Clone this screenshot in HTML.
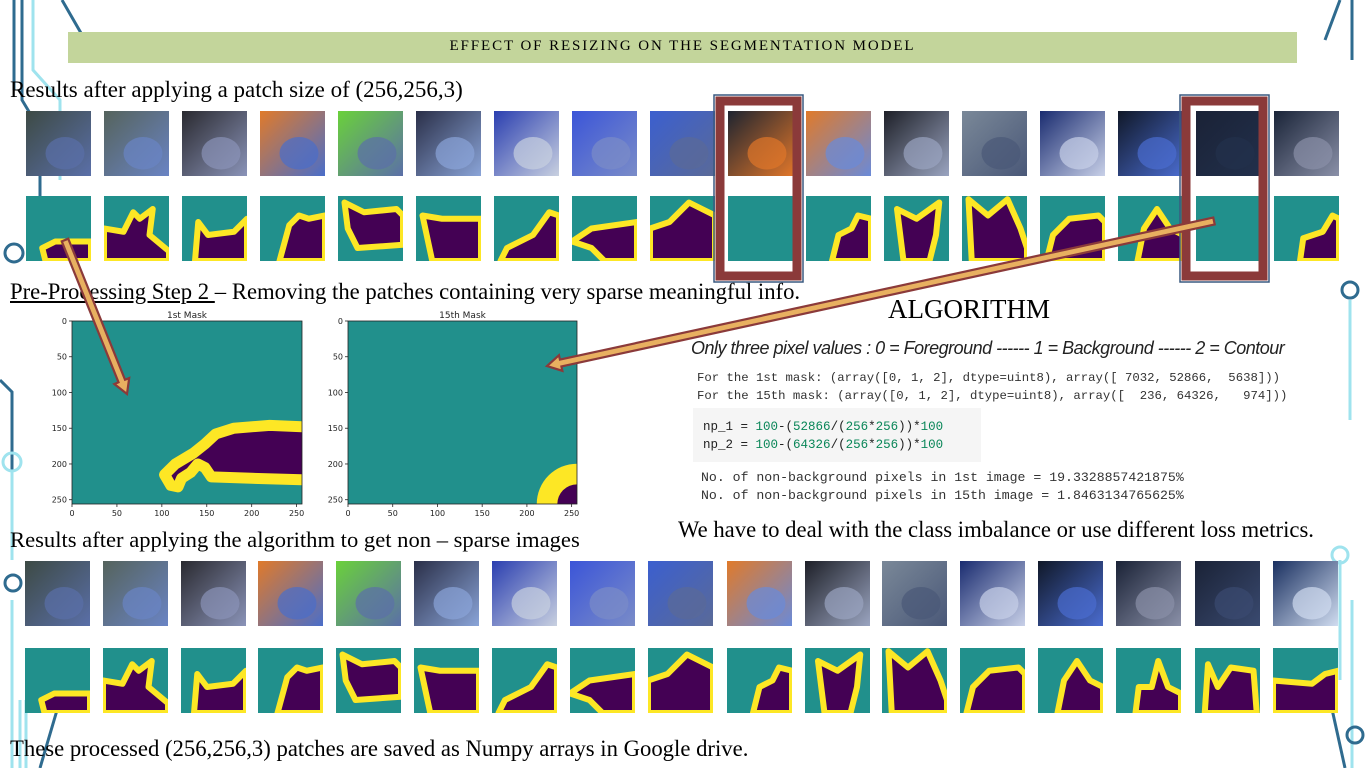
<!DOCTYPE html>
<html><head><meta charset="utf-8">
<style>
body{margin:0;width:1366px;height:768px;background:#fff;overflow:hidden;position:relative;font-family:"Liberation Serif",serif}
.t{position:absolute;white-space:nowrap;color:#000}
.mono{font-family:"Liberation Mono",monospace;font-size:12.3px;color:#333;white-space:pre}
</style></head><body>
<svg id="deco" width="1366" height="768" style="position:absolute;left:0;top:0">
<g fill="none" stroke-width="3">
<path d="M14 0 V90 M22 0 V100 L40 130 V260" stroke="#2f6b8f"/>
<path d="M33 0 V70 L60 100 V180" stroke="#9fe3ee"/>
<path d="M62 0 L85 40 L120 60" stroke="#2f6b8f"/>
<path d="M0 380 L12 392 V470" stroke="#2f6b8f"/>
<path d="M12 470 V560" stroke="#9fe3ee"/>
<path d="M12 600 V768 M20 700 V768 M26 700 V768" stroke="#9fe3ee"/>
<path d="M60 700 L40 768" stroke="#2f6b8f"/>
<path d="M1352 0 V60 M1340 0 L1325 40" stroke="#2f6b8f"/>
<path d="M1350 300 V420 M1340 560 V680 M1352 600 V768" stroke="#9fe3ee"/>
<path d="M1330 700 L1345 768" stroke="#2f6b8f"/>
<circle cx="14" cy="253" r="9" stroke="#2f6b8f"/><circle cx="12" cy="462" r="9" stroke="#9fe3ee"/>
<circle cx="1350" cy="290" r="8" stroke="#2f6b8f"/><circle cx="1340" cy="555" r="8" stroke="#9fe3ee"/>
<circle cx="13" cy="583" r="8" stroke="#2f6b8f"/><circle cx="1355" cy="735" r="8" stroke="#2f6b8f"/>
</g></svg>

<div style="position:absolute;left:68px;top:32px;width:1229px;height:31px;background:#c3d59b"></div>
<div class="t" style="left:68px;top:38px;width:1229px;text-align:center;font-size:15px;letter-spacing:1.9px">EFFECT OF RESIZING ON THE SEGMENTATION MODEL</div>
<div class="t" style="left:10px;top:77px;font-size:23px">Results after applying a patch size of (256,256,3)</div>
<div class="t" style="left:10px;top:279px;font-size:22.7px"><u>Pre-Processing Step 2 </u>– Removing the patches containing very sparse meaningful info.</div>
<div class="t" style="left:888px;top:294px;font-size:27px">ALGORITHM</div>
<div class="t" style="left:691px;top:338px;font-size:18px;font-style:italic;font-family:'Liberation Sans',sans-serif;color:#222;letter-spacing:-0.5px">Only three pixel values : 0 = Foreground ------ 1 = Background ------ 2 = Contour</div>
<div class="t mono" style="left:697px;top:369px;line-height:18px">For the 1st mask: (array([0, 1, 2], dtype=uint8), array([ 7032, 52866,  5638]))
For the 15th mask: (array([0, 1, 2], dtype=uint8), array([  236, 64326,   974]))</div>
<div style="position:absolute;left:693px;top:408px;width:288px;height:54px;background:#f5f5f5"></div>
<div class="t mono" style="left:703px;top:418px;line-height:18px;color:#222;font-size:12.5px">np_1 = <span style="color:#098658">100</span>-(<span style="color:#098658">52866</span>/(<span style="color:#098658">256</span>*<span style="color:#098658">256</span>))*<span style="color:#098658">100</span>
np_2 = <span style="color:#098658">100</span>-(<span style="color:#098658">64326</span>/(<span style="color:#098658">256</span>*<span style="color:#098658">256</span>))*<span style="color:#098658">100</span></div>
<div class="t mono" style="left:701px;top:469px;line-height:18px;font-size:13.2px">No. of non-background pixels in 1st image = 19.3328857421875%
No. of non-background pixels in 15th image = 1.8463134765625%</div>
<div class="t" style="left:678px;top:517px;font-size:22.7px">We have to deal with the class imbalance or use different loss metrics.</div>
<div class="t" style="left:10px;top:527px;font-size:22.6px">Results after applying the algorithm to get non – sparse images</div>
<div class="t" style="left:10px;top:736px;font-size:22.7px">These processed (256,256,3) patches are saved as Numpy arrays in Google drive.</div>

<svg id="main" width="1366" height="768" style="position:absolute;left:0;top:0"></svg>

<script>
const NS='http://www.w3.org/2000/svg';
const svg=document.getElementById('main');
function mk(tag,attrs,parent){const e=document.createElementNS(NS,tag);for(const k in attrs)e.setAttribute(k,attrs[k]);(parent||svg).appendChild(e);return e;}

const row1X=[26,104,182,260,338,416,494,572,650,728,806,884,962,1040,1118,1196,1274];
const row2X=[25,103,181,258,336,414,492,570,648,727,805,882,960,1038,1116,1195,1273];
const row1Colors=[['#3d4a44','#5a6fa8'],['#55635c','#6a84c4'],['#2a2a30','#8a93b8'],['#e07a2a','#4a6ec9'],['#6ad13a','#5b6fa8'],['#2a2f48','#8aa4d8'],['#2b3fb0','#c8d0e0'],['#3b55d8','#7a8cc8'],['#3b5fcf','#5a6a98'],['#1e2430','#e0762a'],['#e07a2a','#6a8ad8'],['#1e2028','#9aa4c0'],['#7a8898','#4a5878'],['#1a2c70','#c8d0e8'],['#101828','#4a6cd0'],['#1a2236','#22304c'],['#1a2438','#8a90a8']];
const row2Colors=[['#3d4a44','#5a6fa8'],['#55635c','#6a84c4'],['#2a2a30','#8a93b8'],['#e07a2a','#4a6ec9'],['#6ad13a','#5b6fa8'],['#2a2f48','#8aa4d8'],['#2b3fb0','#c8d0e0'],['#3b55d8','#7a8cc8'],['#3b5fcf','#5a6a98'],['#e07a2a','#6a8ad8'],['#1e2028','#9aa4c0'],['#7a8898','#4a5878'],['#1a2c70','#c8d0e8'],['#101828','#4a6cd0'],['#1a2236','#8a90a8'],['#1a2236','#3a4a70'],['#1a3060','#d0dcf0']];
const shapes=[
 [[0.3,1],[0.25,0.8],[0.45,0.7],[1,0.7],[1,1]],
 [[0,0.5],[0.3,0.55],[0.45,0.25],[0.55,0.35],[0.75,0.2],[0.7,0.6],[1,0.85],[1,1],[0,1]],
 [[0.2,1],[0.25,0.4],[0.4,0.6],[0.8,0.55],[1,0.35],[1,1]],
 [[0.3,1],[0.45,0.45],[0.6,0.3],[0.75,0.35],[1,0.3],[1,1]],
 [[0.1,0.1],[0.4,0.25],[0.9,0.2],[1,0.3],[1,0.75],[0.3,0.8],[0.15,0.5]],
 [[0.1,0.3],[0.4,0.35],[1,0.35],[1,1],[0.25,1]],
 [[0.1,1],[0.2,0.8],[0.6,0.6],[0.85,0.25],[1,0.3],[1,1]],
 [[0,0.7],[0.3,0.5],[1,0.4],[1,1],[0.5,1],[0.3,0.8]],
 [[0,0.5],[0.3,0.4],[0.6,0.1],[0.8,0.2],[1,0.3],[1,1],[0,1]],
 null,
 [[0.4,1],[0.5,0.6],[0.7,0.5],[0.8,0.3],[1,0.35],[1,1]],
 [[0.2,0.2],[0.5,0.35],[0.85,0.1],[0.8,0.6],[0.7,1],[0.3,1]],
 [[0.1,0.05],[0.4,0.3],[0.7,0.05],[0.9,0.5],[1,0.8],[1,1],[0.15,1]],
 [[0.1,1],[0.2,0.6],[0.45,0.35],[0.9,0.3],[1,0.4],[1,1]],
 [[0.3,1],[0.4,0.5],[0.6,0.2],[0.8,0.5],[1,0.6],[1,1]],
 null,
 [[0.4,1],[0.45,0.65],[0.75,0.55],[0.9,0.3],[1,0.35],[1,1]]
];
const shapes2=shapes.slice(0,9).concat([shapes[10],shapes[11],shapes[12],shapes[13],shapes[14],[[0.3,1],[0.35,0.6],[0.55,0.6],[0.65,0.2],[0.8,0.6],[1,0.7],[1,1]],[[0.2,0.25],[0.35,0.6],[0.55,0.3],[0.9,0.35],[0.95,1],[0.15,1]],[[0,0.5],[0.6,0.55],[0.8,0.4],[1,0.35],[1,1],[0,1]]]);

const TW=65,TH=65;
function thumb(x,y,c,i,prefix){
  const g=mk('g',{});
  
  
  const id='gr'+prefix+i;
  const d=mk('linearGradient',{id:id,x1:0,y1:0,x2:1,y2:1},g);
  mk('stop',{offset:'0',"stop-color":c[0]},d);mk('stop',{offset:'1',"stop-color":c[1]},d);
  mk('rect',{x:x,y:y,width:TW,height:TH,fill:'url(#'+id+')'},g);
  mk('ellipse',{cx:x+TW*0.6,cy:y+TH*0.65,rx:TW*0.3,ry:TH*0.25,fill:c[1],opacity:0.7},g);
}
function mask(x,y,s,i,prefix){
  const g=mk('g',{});
  
  
  const cid='cl'+prefix+i;
  const cp=mk('clipPath',{id:cid},g);mk('rect',{x:x,y:y,width:TW,height:TH},cp);
  mk('rect',{x:x,y:y,width:TW,height:TH,fill:'#21908c'},g);
  if(s){
    const pts=s.map(p=>(x+p[0]*TW)+','+(y+p[1]*TH)).join(' ');
    mk('polygon',{points:pts,fill:'#440154',stroke:'#fde725','stroke-width':6,'stroke-linejoin':'round','clip-path':'url(#'+cid+')'},g);
  }
}
row1X.forEach((x,i)=>{thumb(x,111,row1Colors[i],i,'row1');mask(x,196,shapes[i],i,'row1');});
row2X.forEach((x,i)=>{thumb(x,561,row2Colors[i],i,'row2');mask(x,648,shapes2[i],i,'row2');});

const ticks=[0,50,100,150,200,250];
const mask1Outline=[[256,148],[220,146],[180,150],[160,158],[148,172],[135,185],[115,200],[103,215],[110,230],[118,232],[122,220],[132,212],[140,200],[148,205],[155,218],[200,220],[256,222]];
const mask15Center=[256,256];
const mask15Radii=[22,45];
function plot(px,py,pw,ph,title,name,drawFn){
  const g=mk('g',{});
  
  
  const sx=v=>px+v/256*pw, sy=v=>py+v/256*ph;
  const cid='clip'+name;
  const cp=mk('clipPath',{id:cid},g);mk('rect',{x:px,y:py,width:pw,height:ph},cp);
  mk('rect',{x:px,y:py,width:pw,height:ph,fill:'#21908c'},g);
  const inner=mk('g',{'clip-path':'url(#'+cid+')'},g);
  drawFn(inner,sx,sy);
  mk('rect',{x:px,y:py,width:pw,height:ph,fill:'none',stroke:'#222','stroke-width':0.8},g);
  const t=mk('text',{x:px+pw/2,y:py-3,'text-anchor':'middle','font-size':9,'font-family':'DejaVu Sans, sans-serif',fill:'#222'},g);t.textContent=title;
  ticks.forEach(v=>{
    mk('line',{x1:sx(v),y1:py+ph,x2:sx(v),y2:py+ph+3,stroke:'#222','stroke-width':0.8},g);
    const tx=mk('text',{x:sx(v),y:py+ph+12,'text-anchor':'middle','font-size':8,'font-family':'DejaVu Sans, sans-serif',fill:'#222'},g);tx.textContent=v;
    mk('line',{x1:px-3,y1:sy(v),x2:px,y2:sy(v),stroke:'#222','stroke-width':0.8},g);
    const ty=mk('text',{x:px-5,y:sy(v)+3,'text-anchor':'end','font-size':8,'font-family':'DejaVu Sans, sans-serif',fill:'#222'},g);ty.textContent=v;
  });
}
plot(72,321,230,183,'1st Mask','first-mask-plot',(g,sx,sy)=>{
  const pts=mask1Outline.map(p=>sx(p[0])+','+sy(p[1])).join(' ')+' '+sx(300)+','+sy(222)+' '+sx(300)+','+sy(148);
  mk('polygon',{points:pts,fill:'#440154',stroke:'#fde725','stroke-width':11,'stroke-linejoin':'round'},g);
});
plot(348,321,229,183,'15th Mask','fifteenth-mask-plot',(g,sx,sy)=>{
  mk('circle',{cx:sx(mask15Center[0]),cy:sy(mask15Center[1]),r:(sx(mask15Radii[1])-sx(0)),fill:'#fde725'},g);
  mk('circle',{cx:sx(mask15Center[0]),cy:sy(mask15Center[1]),r:(sx(mask15Radii[0])-sx(0)),fill:'#440154'},g);
});

[[714,95],[1180,95]].forEach((b,i)=>{
  mk('rect',{x:b[0],y:b[1],width:89,height:187,fill:'none',stroke:'#3a5a80','stroke-width':1.5});
  const r=mk('rect',{x:b[0]+6,y:b[1]+6,width:77,height:175,fill:'none',stroke:'#8b3a3a','stroke-width':9});
  
  
});

function arrow(x1,y1,x2,y2,name){
  const g=mk('g',{});
  
  
  const a=Math.atan2(y2-y1,x2-x1),L=Math.hypot(x2-x1,y2-y1),w=3.5,hw=8,hl=14;
  const P=(d,o)=>[x1+Math.cos(a)*d-Math.sin(a)*o,y1+Math.sin(a)*d+Math.cos(a)*o];
  const pts=[P(0,-w),P(L-hl,-w),P(L-hl,-hw),P(L,0),P(L-hl,hw),P(L-hl,w),P(0,w)].map(p=>p.join(',')).join(' ');
  mk('polygon',{points:pts,fill:'#e8b060',stroke:'#8b3a3a','stroke-width':2.2},g);
}
arrow(65,240,127,394,'arrow-to-first-mask');
arrow(1214,221,547,366,'arrow-to-fifteenth-mask');
</script>
</body></html>
